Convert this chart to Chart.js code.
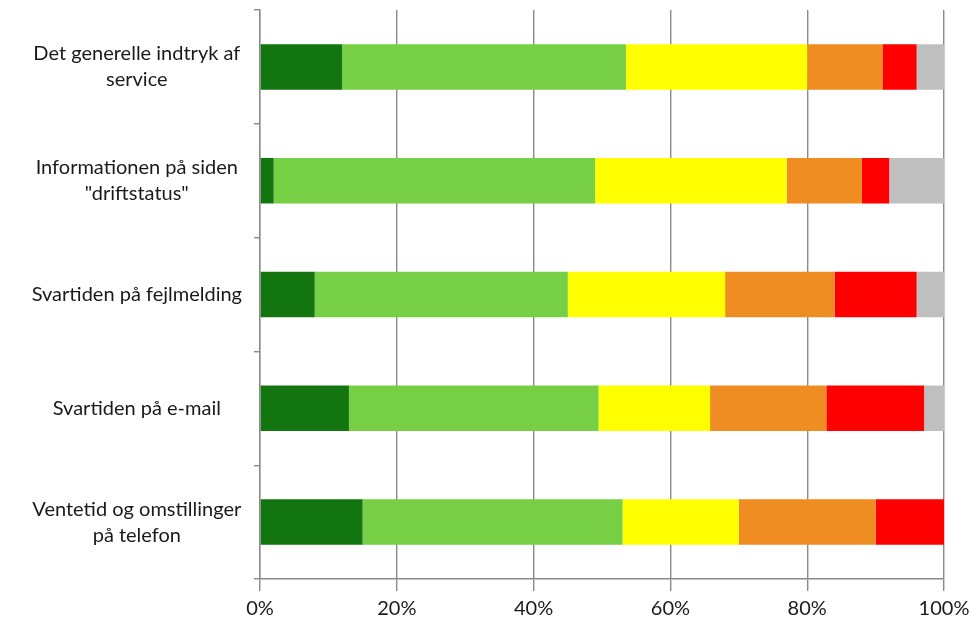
<!DOCTYPE html>
<html>
<head>
<meta charset="utf-8">
<script src="https://cdn.jsdelivr.net/npm/chart.js@4"></script>
<style>
  html, body { margin: 0; padding: 0; background: #fff; }
  #wrap { width: 973px; height: 636px; }
</style>
</head>
<body>
<div id="wrap"><canvas id="myChart"></canvas></div>
<script>
let categories = [
  ['Det generelle indtryk af', 'service'],
  ['Informationen på siden', '"driftstatus"'],
  'Svartiden på fejlmelding',
  'Svartiden på e-mail',
  ['Ventetid og omstillinger', 'på telefon']
];

// share of answers per category, in percent
let darkGreen  = [12, 2, 8, 13, 15];
let lightGreen = [41.5, 47, 37, 36.5, 38];
let yellow     = [26.5, 28, 23, 16.3, 17];
let orange     = [11, 11, 16, 17, 20];
let red        = [5, 4, 12, 14.3, 10];
let grey       = [4, 8, 4, 2.9, 0];

let tickLabels = ['0%', '20%', '40%', '60%', '80%', '100%'];

function ds(data, color) {
  return { data: data, backgroundColor: color, borderWidth: 0, barPercentage: 0.4, categoryPercentage: 1 };
}

let ctx = document.getElementById('myChart').getContext('2d');
let chart = new Chart(ctx, {
  type: 'bar',
  data: {
    labels: categories,
    datasets: [
      ds(darkGreen, '#12750f'),
      ds(lightGreen, '#76cf44'),
      ds(yellow, '#ffff00'),
      ds(orange, '#ef8c22'),
      ds(red, '#ff0000'),
      ds(grey, '#bfbfbf')
    ]
  },
  options: {
    indexAxis: 'y',
    responsive: true,
    maintainAspectRatio: false,
    animation: false,
    layout: { padding: { left: 0, right: 29, top: 10, bottom: 9 } },
    plugins: { legend: { display: false }, title: { display: false }, tooltip: { enabled: false } },
    scales: {
      x: {
        stacked: true,
        min: 0,
        max: 100,
        ticks: {
          stepSize: 20,
          color: '#1a1a1a',
          font: { family: 'Lato', size: 20 },
          padding: 6,
          maxRotation: 0,
          callback: function (v, i) { return tickLabels[i]; }
        },
        grid: { color: '#8a8a8a', lineWidth: 1.4, tickLength: 12 },
        border: { color: '#8a8a8a', width: 1.4 },
        afterFit: function (scale) {
          scale.paddingLeft = 0;
          scale.paddingRight = 0;
        }
      },
      y: {
        stacked: true,
        ticks: {
          color: '#1a1a1a',
          font: { family: 'Lato', size: 20, lineHeight: 1.3 },
          crossAlign: 'center',
          padding: 12
        },
        grid: { offset: true, drawOnChartArea: false, color: '#8a8a8a', lineWidth: 1.4, tickLength: 6 },
        border: { color: '#8a8a8a', width: 1.4 },
        afterFit: function (scale) {
          scale.width = 260;
          scale.paddingTop = 0;
          scale.paddingBottom = 0;
        }
      }
    }
  }
});
</script>
</body>
</html>
